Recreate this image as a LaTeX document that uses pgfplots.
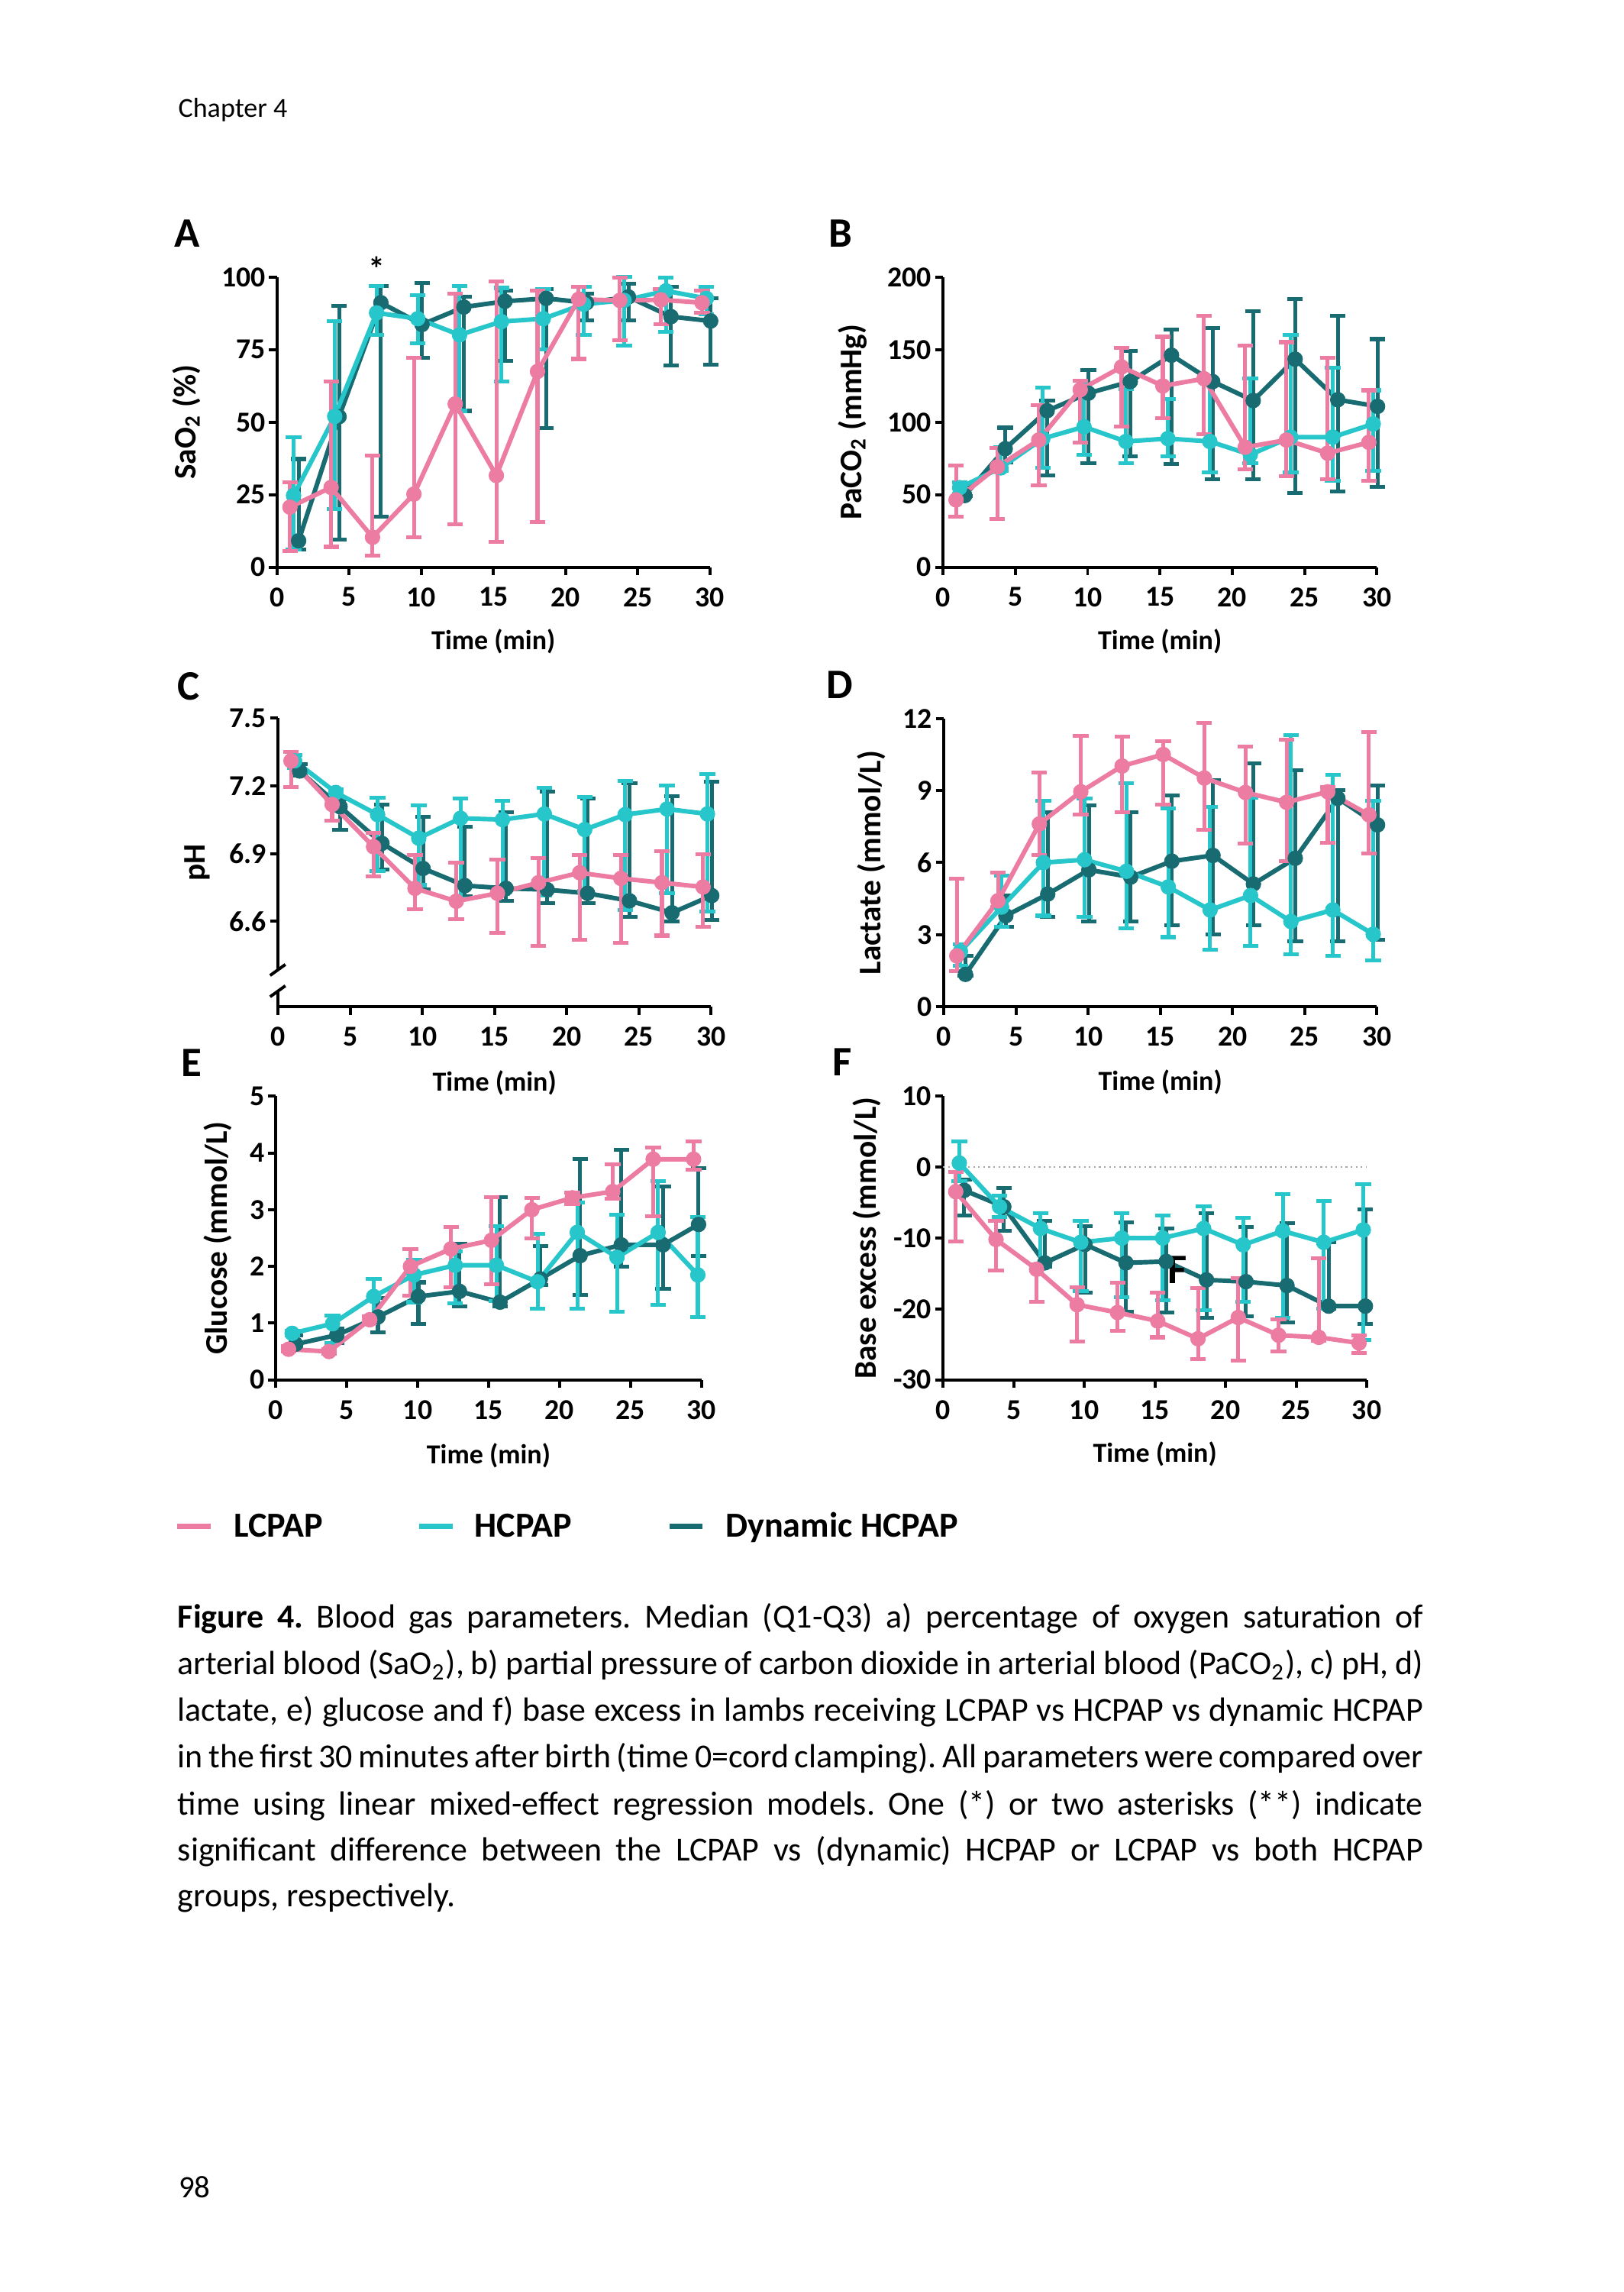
\documentclass[border=0pt]{standalone}
\usepackage{fontspec}
\setmainfont{Carlito}
\usepackage{pgfplots}
\usepackage{pgfplotstable}
\pgfplotsset{compat=1.18}
\frenchspacing

\definecolor{lc}{HTML}{EC7CA2}
\definecolor{hc}{HTML}{27C6CB}
\definecolor{dh}{HTML}{176B71}

% columns: x = time (min), y = median, lo = Q1, hi = Q3
\pgfplotstableread{
x y lo hi
0.9 20.7 5.5 29.2
3.75 27.5 7 64
6.62 10.3 4 38.5
9.49 25.2 10.3 72.3
12.35 56.3 14.8 94.3
15.2 31.6 8.6 98.5
18.05 67.5 15.6 95.5
20.9 92.4 71.8 96.8
23.75 92 78.3 99.8
26.6 92.2 83.7 95.8
29.45 91.2 87.7 95.3
}\pinkA
\pgfplotstableread{
x y lo hi
1.15 24.7 6 44.7
4.0 52 20 84.9
6.9 87.7 80 97
9.75 85.7 77.1 93.7
12.65 80.1 53.9 97
15.55 84.7 64 96.3
18.45 85.7 75 95.8
21.25 90.7 80.1 96.6
24.05 92 76.4 100
26.95 95.3 81.1 99.8
29.75 92.7 87.2 96.6
}\cyanA
\pgfplotstableread{
x y lo hi
1.5 9.1 6 37.3
4.3 51.9 9.6 90
7.2 91.2 17.4 97
10.05 83.7 72.3 98
12.95 89.7 53.9 93.2
15.8 91.7 71.1 95.3
18.65 92.7 47.9 96
21.45 91.2 85.2 94.3
24.35 93.2 85.2 97.8
27.3 86.4 69.6 96.8
30.05 84.9 69.8 92.7
}\darkA

\pgfplotstableread{
x y lo hi
0.9 46.4 34.9 70
3.75 69.2 33.3 82
6.62 87.7 56.5 111.9
9.49 122.4 85.7 128.4
12.35 138.1 96.8 151.2
15.2 125 102.8 158.9
18.05 130 91.7 173.4
20.9 82.7 67.5 152.6
23.75 87.7 62.5 155.2
26.6 78.6 60.5 144.6
29.45 86.1 59.5 122
}\pinkB
\pgfplotstableread{
x y lo hi
1.15 54.8 50.4 58.5
4.0 68.5 66.5 82.7
6.9 88.7 68.5 124
9.75 96.8 77.6 126
12.65 86.7 71.6 123
15.55 88.7 76.6 115.9
18.45 86.7 65.5 130
21.25 77.6 71.6 130
24.05 89.7 65.5 160.3
26.95 89.7 59.5 137.5
29.75 98.8 66.5 122
}\cyanB
\pgfplotstableread{
x y lo hi
1.5 49.4 49 56.5
4.3 81.7 72 96.2
7.2 107.9 63.5 114.9
10.05 120 71.6 136.1
12.95 128 76.6 149.2
15.8 146.2 71 163.9
18.65 128 60.5 164.7
21.45 114.9 60.5 176.4
24.35 143.5 51.4 184.9
27.3 115.5 52.4 173.4
30.05 110.9 55.4 157.3
}\darkB

\pgfplotstableread{
x y lo hi
0.9 7.31 7.193 7.35
3.75 7.117 7.044 7.14
6.62 6.93 6.80 6.993
9.49 6.746 6.655 6.892
12.35 6.689 6.61 6.86
15.2 6.724 6.55 6.873
18.05 6.771 6.49 6.881
20.9 6.815 6.518 6.894
23.75 6.79 6.505 6.892
26.6 6.771 6.537 6.911
29.45 6.752 6.577 6.898
}\pinkC
\pgfplotstableread{
x y lo hi
1.15 7.31 7.278 7.335
4.0 7.17 7.107 7.183
6.9 7.072 6.822 7.148
9.75 6.968 6.76 7.113
12.65 7.056 6.70 7.143
15.55 7.05 6.72 7.132
18.45 7.075 6.714 7.19
21.25 7.006 6.733 7.151
24.05 7.072 6.65 7.221
26.95 7.097 6.726 7.202
29.75 7.075 6.644 7.253
}\cyanC
\pgfplotstableread{
x y lo hi
1.5 7.265 7.246 7.297
4.3 7.107 7.006 7.139
7.2 6.945 6.828 7.117
10.05 6.834 6.74 7.063
12.95 6.758 6.71 7.02
15.8 6.746 6.691 7.082
18.65 6.74 6.682 7.173
21.45 6.724 6.682 7.143
24.35 6.691 6.619 7.211
27.3 6.638 6.60 7.155
30.05 6.714 6.606 7.219
}\darkC

\pgfplotstableread{
x y lo hi
0.9 2.12 1.5 5.34
3.75 4.41 4.15 5.58
6.62 7.61 6.32 9.76
9.49 8.95 7.99 11.28
12.35 10.02 8.09 11.25
15.2 10.5 8.42 11.05
18.05 9.52 7.37 11.81
20.9 8.92 6.8 10.83
23.75 8.51 6.06 11.11
26.6 8.95 6.84 9.16
29.45 7.99 6.38 11.43
}\pinkD
\pgfplotstableread{
x y lo hi
1.15 2.3 1.71 2.6
4.0 4.15 3.32 5.46
6.9 6.0 3.79 8.56
9.75 6.12 3.73 8.68
12.65 5.64 3.26 9.3
15.55 4.99 2.9 8.27
18.45 4.03 2.39 8.33
21.25 4.63 2.54 8.7
24.05 3.55 2.18 11.31
26.95 4.03 2.12 9.64
29.75 3.02 1.94 8.56
}\cyanD
\pgfplotstableread{
x y lo hi
1.5 1.35 1.29 2.12
4.3 3.79 3.32 4.63
7.2 4.69 3.73 8.09
10.05 5.70 3.55 8.39
12.95 5.40 3.55 8.09
15.8 6.06 3.38 8.8
18.65 6.3 3.02 9.42
21.45 5.11 3.38 10.12
24.35 6.18 2.72 9.85
27.3 8.68 2.72 9.02
30.05 7.57 2.78 9.22
}\darkD

\pgfplotstableread{
x y lo hi
0.9 0.54 0.5 0.6
3.75 0.5 0.46 0.54
6.62 1.06 1.0 1.12
9.49 2.0 1.49 2.31
12.35 2.31 1.63 2.7
15.2 2.46 1.69 3.22
18.05 3.0 2.49 3.21
20.9 3.21 3.1 3.3
23.75 3.32 3.2 3.8
26.6 3.89 2.88 4.09
29.45 3.89 3.7 4.21
}\pinkE
\pgfplotstableread{
x y lo hi
1.15 0.82 0.78 0.86
4.0 0.99 0.65 1.13
6.9 1.47 1.13 1.78
9.75 1.85 1.37 2.12
12.65 2.02 1.35 2.26
15.55 2.02 1.39 2.71
18.45 1.73 1.25 2.57
21.25 2.6 1.25 3.13
24.05 2.16 1.2 2.91
26.95 2.6 1.32 3.5
29.75 1.85 1.11 2.87
}\cyanE
\pgfplotstableread{
x y lo hi
1.4 0.63 0.55 0.79
4.3 0.79 0.65 0.9
7.2 1.11 0.84 1.44
10.05 1.47 0.99 1.72
12.95 1.56 1.3 2.4
15.8 1.37 1.3 3.22
18.65 1.78 1.67 2.36
21.45 2.19 1.5 3.9
24.35 2.38 2.0 4.06
27.3 2.38 1.6 3.41
29.8 2.74 2.19 3.73
}\darkE

\pgfplotstableread{
x y lo hi
0.9 -3.46 -10.5 -0.65
3.75 -10.2 -14.6 -7.58
6.62 -14.4 -19.0 -13.7
9.49 -19.4 -24.6 -16.9
12.35 -20.5 -23.1 -16.3
15.2 -21.7 -24.0 -17.7
18.05 -24.2 -27.1 -17.1
20.9 -21.2 -27.3 -15.6
23.75 -23.7 -26.0 -21.5
26.6 -24.0 -24.5 -12.9
29.45 -24.8 -26.2 -23.7
}\pinkF
\pgfplotstableread{
x y lo hi
1.15 0.58 -2 3.65
4.0 -5.58 -7 -4
6.9 -8.65 -14 -6.46
9.75 -10.6 -17.5 -7.58
12.65 -10.0 -18.3 -6.46
15.55 -10.0 -18.8 -6.8
18.45 -8.65 -20.2 -5.5
21.25 -10.96 -19.0 -7.1
24.05 -9.0 -21.3 -3.85
26.95 -10.6 -20 -4.8
29.75 -8.85 -24.4 -2.42
}\cyanF
\pgfplotstableread{
x y lo hi
1.5 -3.27 -6.8 -1.8
4.3 -5.58 -9.0 -2.96
7.2 -13.5 -14 -7.58
10.05 -10.9 -17.7 -8.35
12.95 -13.5 -20.4 -7.8
15.8 -13.3 -20.5 -8.65
18.65 -15.9 -21.3 -6.5
21.45 -16.15 -21 -8.46
24.35 -16.7 -21.9 -7.88
27.3 -19.6 -20 -10.6
29.9 -19.6 -22.1 -5.96
}\darkF

\pgfplotsset{
  panel/.style={
    scale only axis, anchor=south west,
    axis lines*=left, axis line style={line width=0.9pt,-},
    tick style={line width=0.9pt, black},
    major tick length=0.085cm, tick align=outside,
    xmin=0, xmax=30, xtick={0,5,...,30}, minor tick num=0,
    clip=false, enlargelimits=false,
    tick label style={font=\bfseries\fontsize{8.6}{9.5}\selectfont},
    /pgf/number format/assume math mode=true,
    yticklabel style={inner sep=0.8pt},
    xticklabel style={inner sep=1.5pt, yshift=-0.07cm},
    xlabel style={font=\bfseries\fontsize{8.2}{9}\selectfont, anchor=center},
    ylabel style={font=\bfseries\fontsize{9.4}{10}\selectfont, anchor=center},
    xlabel={Time (min)},
  },
  ser/.style={color=#1, line width=1.35pt, mark=*, mark size=2.2pt,
    mark options={solid, fill=#1, draw=#1, line width=0.2pt},
    error bars/y dir=both, error bars/y explicit,
    error bars/error bar style={line width=1.15pt, color=#1},
    error bars/error mark options={rotate=90, mark size=2.3pt, line width=1.15pt, color=#1}},
  /pgfplots/table/qtab/.style={x=x, y=y,
    y error plus expr=\thisrow{hi}-\thisrow{y},
    y error minus expr=\thisrow{y}-\thisrow{lo}},
}
\newcommand\capline[1]{\makebox[13.048cm][s]{#1}}

\begin{document}
\begin{tikzpicture}
\fill[white] (0,0) rectangle (17.008,24.008);
\path[use as bounding box] (0,0) rectangle (17.008,24.008);

\node[anchor=base west, inner sep=0, font=\fontsize{8.2}{10}\selectfont] at (1.862,22.782) {Chapter 4};

\tikzset{plet/.style={anchor=base west, inner sep=0, font=\bfseries\fontsize{12.5}{14}\selectfont}}
\node[plet] at (1.824,21.422) {A};
\node[plet] at (8.680,21.419) {B};
\node[plet] at (1.856,16.677) {C};
\node[plet] at (8.656,16.691) {D};
\node[plet] at (1.894,12.728) {E};
\node[plet] at (8.720,12.736) {F};

% A
\begin{axis}[panel, at={(2.902cm,18.067cm)}, width=4.537cm, height=3.037cm,
  ymin=0, ymax=100, ytick={0,25,...,100},
  ylabel={SaO\textsubscript{2} (\%)},
  xlabel style={at={([yshift=-0.78cm]axis description cs:0.5,0)}},
  ylabel style={at={([xshift=-0.95cm]axis description cs:0,0.5)}}]
\addplot[ser=dh] table[qtab] {\darkA};
\addplot[ser=hc] table[qtab] {\cyanA};
\addplot[ser=lc] table[qtab] {\pinkA};
\node[font=\bfseries\fontsize{10}{12}\selectfont, inner sep=0] at (axis cs:6.91,103) {*};
\end{axis}

% B
\begin{axis}[panel, at={(9.881cm,18.067cm)}, width=4.545cm, height=3.037cm,
  ymin=0, ymax=200, ytick={0,50,...,200},
  ylabel={PaCO\textsubscript{2} (mmHg)},
  xlabel style={at={([yshift=-0.78cm]axis description cs:0.5,0)}},
  ylabel style={at={([xshift=-0.95cm]axis description cs:0,0.5)}}]
\addplot[ser=dh] table[qtab] {\darkB};
\addplot[ser=hc] table[qtab] {\cyanB};
\addplot[ser=lc] table[qtab] {\pinkB};
\end{axis}

% C
\begin{axis}[panel, at={(2.913cm,13.462cm)}, width=4.537cm, height=3.026cm,
  ymin=6.222, ymax=7.5, ytick={6.6,6.9,7.2,7.5},
  yticklabel style={/pgf/number format/fixed, /pgf/number format/fixed zerofill, /pgf/number format/precision=1},
  ylabel={pH},
  xlabel style={at={([yshift=-0.80cm]axis description cs:0.5,0)}},
  ylabel style={at={([xshift=-0.85cm]axis description cs:0,0.5)}}]
\addplot[ser=dh] table[qtab] {\darkC};
\addplot[ser=hc] table[qtab] {\cyanC};
\addplot[ser=lc] table[qtab] {\pinkC};
\end{axis}
% axis break marks on the pH axis
\fill[white] (2.84,13.624) rectangle (2.99,13.848);
\draw[line width=0.9pt] (2.83,13.79) -- (2.99,13.905);
\draw[line width=0.9pt] (2.83,13.567) -- (2.99,13.682);

% D
\begin{axis}[panel, at={(9.889cm,13.462cm)}, width=4.537cm, height=3.02cm,
  ymin=0, ymax=12, ytick={0,3,...,12},
  ylabel={Lactate (mmol/L)},
  xlabel style={at={([yshift=-0.79cm]axis description cs:0.5,0)}},
  ylabel style={at={([xshift=-0.76cm]axis description cs:0,0.5)}}]
\addplot[ser=dh] table[qtab] {\darkD};
\addplot[ser=hc] table[qtab] {\cyanD};
\addplot[ser=lc] table[qtab] {\pinkD};
\end{axis}

% E
\begin{axis}[panel, at={(2.890cm,9.554cm)}, width=4.459cm, height=2.971cm,
  ymin=0, ymax=5, ytick={0,1,...,5},
  ylabel={Glucose (mmol/L)},
  xlabel style={at={([yshift=-0.79cm]axis description cs:0.5,0)}},
  ylabel style={at={([xshift=-0.61cm]axis description cs:0,0.5)}}]
\addplot[ser=dh] table[qtab] {\darkE};
\addplot[ser=hc] table[qtab] {\cyanE};
\addplot[ser=lc] table[qtab] {\pinkE};
\end{axis}

% F
\begin{axis}[panel, at={(9.881cm,9.554cm)}, width=4.440cm, height=2.971cm,
  ymin=-30, ymax=10, ytick={-30,-20,...,10},
  ylabel={Base excess (mmol/L)},
  xlabel style={at={([yshift=-0.78cm]axis description cs:0.5,0)}},
  ylabel style={at={([xshift=-0.80cm]axis description cs:0,0.5)}}]
\draw[black!35, densely dotted, line width=0.5pt] (axis cs:0,0) -- (axis cs:30,0);
\addplot[ser=dh] table[qtab] {\darkF};
\addplot[ser=hc] table[qtab] {\cyanF};
\addplot[ser=lc] table[qtab] {\pinkF};
\node[font=\bfseries\fontsize{12.5}{14}\selectfont, inner sep=0] at (axis cs:16.57,-14.5) {F};
\end{axis}

% legend
\tikzset{legtxt/.style={anchor=base west, inner sep=0, font=\bfseries\fontsize{10.5}{12}\selectfont}}
\draw[lc, line width=1.5pt] (1.853,8.022) -- (2.206,8.022);
\node[legtxt] at (2.442,7.907) {LCPAP};
\draw[hc, line width=1.5pt] (4.389,8.022) -- (4.742,8.022);
\node[legtxt] at (4.967,7.907) {HCPAP};
\draw[dh, line width=1.5pt] (7.016,8.022) -- (7.363,8.022);
\node[legtxt] at (7.594,7.907) {Dynamic HCPAP};

% caption
\tikzset{capl/.style={anchor=base west, inner sep=0, font=\fontsize{10}{12}\selectfont}}
\node[capl] at (1.856,6.954) {\capline{\textbf{Figure 4.} Blood gas parameters. Median (Q1-Q3) a) percentage of oxygen saturation of}};
\node[capl] at (1.856,6.466) {\capline{arterial blood (SaO\textsubscript{2}), b) partial pressure of carbon dioxide in arterial blood (PaCO\textsubscript{2}), c) pH, d)}};
\node[capl] at (1.856,5.976) {\capline{lactate, e) glucose and f) base excess in lambs receiving LCPAP vs HCPAP vs dynamic HCPAP}};
\node[capl] at (1.856,5.488) {\capline{in the first 30 minutes after birth (time 0=cord clamping). All parameters were compared over}};
\node[capl] at (1.856,4.999) {\capline{time using linear mixed-effect regression models. One (*) or two asterisks (**) indicate}};
\node[capl] at (1.856,4.514) {\capline{significant difference between the LCPAP vs (dynamic) HCPAP or LCPAP vs both HCPAP}};
\node[capl] at (1.856,4.034) {groups, respectively.};

\node[anchor=base west, inner sep=0, font=\fontsize{9.3}{11}\selectfont] at (1.866,0.990) {98};
\end{tikzpicture}
\end{document}
